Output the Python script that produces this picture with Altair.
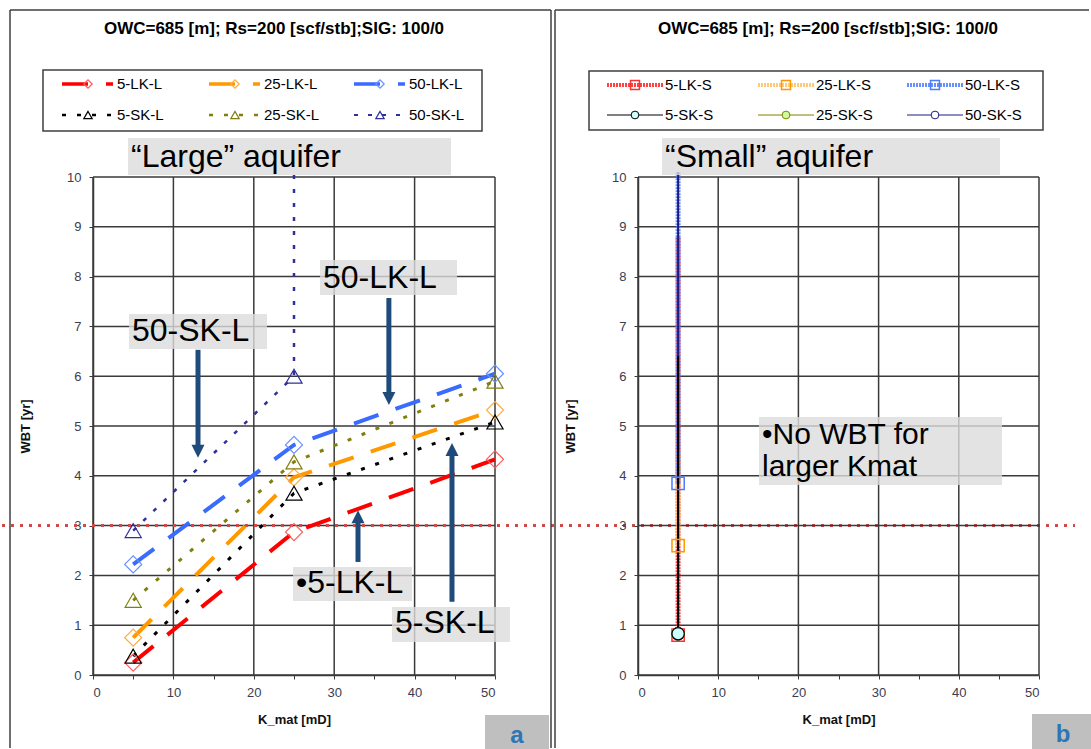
import altair as alt
import pandas as pd

# ------------------------------------------------------------------ data
k_ticks = [0, 10, 20, 30, 40, 50]
k_minor = [0, 5, 10, 15, 20, 25, 30, 35, 40, 45, 50]
wbt_ticks = [0, 1, 2, 3, 4, 5, 6, 7, 8, 9, 10]
wbt_limit = [3]

# "Large" aquifer
k_large = [5, 25, 50]
wbt_5_lk_l = [0.25, 2.87, 4.33]
wbt_25_lk_l = [0.75, 3.97, 5.32]
wbt_50_lk_l = [2.22, 4.62, 6.05]
wbt_5_sk_l = [0.38, 3.65, 5.08]
wbt_25_sk_l = [1.50, 4.28, 5.90]
k_50_sk_l = [5, 25]
wbt_50_sk_l = [2.90, 6.00]
wbt_50_sk_l_exit = 10.1  # past 25 mD the curve runs off the top of the axis

# "Small" aquifer: only the 5 mD case reaches a WBT
k_small = 5
small_lk = ["5-LK-S", "25-LK-S", "50-LK-S"]
wbt_small_lk = [0.80, 2.60, 3.85]
wbt_small_lk_top = [8.80, 4.50, 10.10]
small_sk = ["5-SK-S", "25-SK-S", "50-SK-S"]
wbt_small_sk = [0.83, 0.83, 0.83]
wbt_small_sk_top = [6.40, 5.00, 10.10]

# call-out arrows of panel a: (K_mat, start WBT, tip WBT)
arrows_a = [(36.8, 7.57, 5.42), (13.06, 6.53, 4.36), (32.96, 2.27, 3.31), (44.65, 1.47, 4.66)]

# ------------------------------------------------------------------ style
FONT = "Liberation Sans"
GRID = "#3a3a3a"
LABEL = "#3c3c50"
ARROW = "#1f4b7a"
BOX = "#dcdcdc"
W_A, W_B, H = 402, 401, 498
X_SCALE = alt.Scale(domain=[0, 50], nice=False, zero=False)
Y_SCALE = alt.Scale(domain=[0, 10], nice=False, zero=False)

large_style = {
    "5-LK-L": dict(color="#ff0000", mark="#ff5a5a", dash=[26, 18], width=4, shape="diamond", size=290),
    "25-LK-L": dict(color="#ff9900", mark="#ffaa40", dash=[26, 18], width=4, shape="diamond", size=290),
    "50-LK-L": dict(color="#3a6bff", mark="#6a90ff", dash=[26, 18], width=4, shape="diamond", size=290),
    "5-SK-L": dict(color="#000000", mark="#000000", dash=[4, 11], width=3, shape="triangle-up", size=260),
    "25-SK-L": dict(color="#808010", mark="#808010", dash=[4, 11], width=3, shape="triangle-up", size=260),
    "50-SK-L": dict(color="#30309a", mark="#30309a", dash=[4, 10], width=2.5, shape="triangle-up", size=260),
}
small_lk_style = [("#ff2020", "#ff3030"), ("#ffc060", "#ff9900"), ("#4d7aff", "#4d7aff")]
small_sk_style = [("#000000", "#ccffff"), ("#808000", "#ccff99"), ("#1c1c80", "#ffffff")]

x_axis = alt.Axis(
    values=k_minor, labelExpr="datum.value % 10 === 0 ? datum.label : ''",
    grid=False, tickSize=4, tickColor=GRID, tickWidth=1, domainColor=GRID, domainWidth=1.5,
    labelFont=FONT, labelFontSize=13, labelColor=LABEL, labelPadding=7,
    title="K_mat [mD]", titleFont=FONT, titleFontSize=13, titleFontWeight="bold",
    titleColor="#111111", titlePadding=14,
)
y_axis = alt.Axis(
    values=wbt_ticks, grid=False, tickSize=4, tickColor=GRID, tickWidth=1, domainColor=GRID,
    domainWidth=1.5, labelFont=FONT, labelFontSize=13, labelColor=LABEL, labelPadding=8,
    title="WBT [yr]", titleFont=FONT, titleFontSize=13, titleFontWeight="bold",
    titleColor="#111111", titlePadding=34,
)

ONE = alt.Data(values=[{"o": 0}])


def X(field="k"):
    return alt.X(f"{field}:Q", scale=X_SCALE)


def Y(field="wbt"):
    return alt.Y(f"{field}:Q", scale=Y_SCALE)


class Canvas:
    """Decorations placed in page pixels, relative to a panel's plot origin."""

    def __init__(self, ox, oy):
        self.ox, self.oy = ox, oy

    def rect(self, x0, y0, x1, y1, **style):
        return alt.Chart(ONE).mark_rect(**style).encode(
            x=alt.value(x0 - self.ox), x2=alt.value(x1 - self.ox),
            y=alt.value(y0 - self.oy), y2=alt.value(y1 - self.oy))

    def hline(self, x0, x1, y, **style):
        return alt.Chart(ONE).mark_rule(**style).encode(
            x=alt.value(x0 - self.ox), x2=alt.value(x1 - self.ox), y=alt.value(y - self.oy))

    def vline(self, x, y0, y1, **style):
        return alt.Chart(ONE).mark_rule(**style).encode(
            x=alt.value(x - self.ox), y=alt.value(y0 - self.oy), y2=alt.value(y1 - self.oy))

    def text(self, x, y, s, **style):
        st = dict(align="left", baseline="alphabetic", font=FONT, color="#000000")
        st.update(style)
        return alt.Chart(ONE).mark_text(**st).encode(
            x=alt.value(x - self.ox), y=alt.value(y - self.oy), text=alt.value(s))

    def symbol(self, x, y, **style):
        return alt.Chart(ONE).mark_point(**style).encode(
            x=alt.value(x - self.ox), y=alt.value(y - self.oy))


def grid_layers(width):
    xg = alt.Chart(pd.DataFrame({"k": k_ticks})).mark_rule(color=GRID, strokeWidth=1.5).encode(
        x=alt.X("k:Q", scale=X_SCALE, axis=x_axis), y=alt.value(0), y2=alt.value(H))
    yg = alt.Chart(pd.DataFrame({"wbt": wbt_ticks})).mark_rule(color=GRID, strokeWidth=1.5).encode(
        y=alt.Y("wbt:Q", scale=Y_SCALE, axis=y_axis), x=alt.value(0), x2=alt.value(width))
    return [xg, yg]


def limit_layer(x0, x1):
    return alt.Chart(pd.DataFrame({"wbt": wbt_limit})).mark_rule(
        color="#d04848", strokeWidth=3, strokeDash=[3, 6]).encode(
        y=Y(), x=alt.value(x0), x2=alt.value(x1))


def series_layers(ks, ws, st, marker_count):
    df = pd.DataFrame({"k": ks, "wbt": ws, "i": list(range(len(ks)))})
    line = alt.Chart(df).mark_line(
        color=st["color"], strokeDash=st["dash"], strokeWidth=st["width"], clip=False).encode(
        x=X(), y=Y(), order="i:Q")
    pts = alt.Chart(df.iloc[:marker_count]).mark_point(
        shape=st["shape"], size=st["size"], filled=False, stroke=st["mark"], strokeWidth=1.2,
        opacity=1).encode(x=X(), y=Y())
    return line, pts


def box_label(cv, x0, y0, x1, y1, lines, tx, baselines, size=32):
    out = [cv.rect(x0, y0, x1, y1, fill=BOX, fillOpacity=0.8, strokeWidth=0)]
    for s, b in zip(lines, baselines):
        out.append(cv.text(tx, b, s, fontSize=size))
    return out


TITLE = "OWC=685 [m]; Rs=200 [scf/stb];SIG: 100/0"

# ------------------------------------------------------------------ panel a
cva = Canvas(93, 177)
a_layers = grid_layers(W_A)
a_layers.append(cva.rect(0, 0, 1091, 749, fill="white", fillOpacity=0, strokeWidth=0))
a_layers.append(limit_layer(-91, 1075 - 93))

large_data = [
    ("5-LK-L", k_large, wbt_5_lk_l), ("25-LK-L", k_large, wbt_25_lk_l),
    ("50-LK-L", k_large, wbt_50_lk_l), ("5-SK-L", k_large, wbt_5_sk_l),
    ("25-SK-L", k_large, wbt_25_sk_l),
    ("50-SK-L", k_50_sk_l + [k_50_sk_l[-1]], wbt_50_sk_l + [wbt_50_sk_l_exit]),
]
marker_counts = {"50-SK-L": len(wbt_50_sk_l)}
lines_a, points_a = [], []
for name, ks, ws in large_data:
    ln, pt = series_layers(ks, ws, large_style[name], marker_counts.get(name, len(ks)))
    lines_a.append(ln)
    points_a.append(pt)
a_layers += lines_a[::-1] + points_a

a_layers += box_label(cva, 128, 138, 451, 175, ["\u201cLarge\u201d aquifer"], 131, [167])
a_layers += box_label(cva, 320, 260, 457, 295, ["50-LK-L"], 323, [288])
a_layers += box_label(cva, 129, 314, 267, 349, ["50-SK-L"], 132, [341])
a_layers += box_label(cva, 293, 567, 412, 601, ["\u20225-LK-L"], 296, [593])
a_layers += box_label(cva, 392, 607, 510, 642, ["5-SK-L"], 395, [633])

# call-out arrows, drawn through the data scales
HEAD = 12 / (H / 10)
arr = pd.DataFrame({
    "k": [a[0] for a in arrows_a],
    "start": [a[1] for a in arrows_a],
    "tip": [a[2] for a in arrows_a],
})
arr["shaft_end"] = [t + HEAD if t < s else t - HEAD for s, t in zip(arr["start"], arr["tip"])]
arr["down"] = arr["tip"] < arr["start"]
a_layers.append(alt.Chart(arr).mark_rule(color=ARROW, strokeWidth=5).encode(
    x=X(), y=Y("start"), y2="shaft_end:Q"))
a_layers.append(alt.Chart(arr[arr["down"]]).mark_point(
    shape="M -1 -2 L 1 -2 L 0 0 Z", size=169, filled=True, color=ARROW, opacity=1).encode(
    x=X(), y=Y("tip")))
a_layers.append(alt.Chart(arr[~arr["down"]]).mark_point(
    shape="M -1 2 L 1 2 L 0 0 Z", size=169, filled=True, color=ARROW, opacity=1).encode(
    x=X(), y=Y("tip")))

# frame, title, legend, panel tag
a_layers += [
    cva.vline(10, 10, 748, color="#3f3f3f", strokeWidth=1.5),
    cva.hline(10, 551, 10, color="#3f3f3f", strokeWidth=1.5),
    cva.vline(551, 10, 748, color="#3f3f3f", strokeWidth=1.5),
    cva.text(274, 34, TITLE, align="center", fontSize=17, fontWeight="bold"),
    cva.rect(43, 70, 482, 131, fill="white", stroke="#3f3f3f", strokeWidth=1.5),
]
legend_cols = [62, 209, 354]
legend_rows = [(84, 89), (115, 120)]
legend_names = [["5-LK-L", "25-LK-L", "50-LK-L"], ["5-SK-L", "25-SK-L", "50-SK-L"]]
for r, (ly, tb) in enumerate(legend_rows):
    for c, cx in enumerate(legend_cols):
        name = legend_names[r][c]
        st = large_style[name]
        a_layers.append(cva.hline(cx, cx + 51, ly, color=st["color"], strokeDash=st["dash"],
                                  strokeWidth=st["width"] - 0.5))
        a_layers.append(cva.symbol(cx + 26, ly, shape=st["shape"], size=70, filled=False,
                                   stroke=st["mark"], strokeWidth=1.2, opacity=1))
        a_layers.append(cva.text(cx + 55, tb, name, fontSize=15))
a_layers += [
    cva.rect(485, 715, 549, 749, fill="#bfbfbf", strokeWidth=0),
    cva.text(517, 743, "a", align="center", fontSize=24, fontWeight="bold", color="#2e75b6"),
]
panel_a = alt.layer(*a_layers).properties(width=W_A, height=H)

# ------------------------------------------------------------------ panel b
cvb = Canvas(638, 177)
b_layers = grid_layers(W_B)

lk_lines, lk_pts, sk_lines, sk_pts = [], [], [], []
for i, name in enumerate(small_lk):
    col, mcol = small_lk_style[i]
    df = pd.DataFrame({"k": [k_small, k_small], "wbt": [wbt_small_lk[i], wbt_small_lk_top[i]],
                       "i": [0, 1]})
    lk_lines.append(alt.Chart(df).mark_line(color=col, strokeWidth=5, strokeDash=[2, 1],
                                            opacity=0.85, clip=False).encode(
        x=X(), y=Y(), order="i:Q"))
    lk_pts.append(alt.Chart(df.iloc[:1]).mark_point(shape="square", size=150, filled=False,
                                                   stroke=mcol, strokeWidth=1.5, opacity=1).encode(
        x=X(), y=Y()))
for i, name in enumerate(small_sk):
    col, fcol = small_sk_style[i]
    df = pd.DataFrame({"k": [k_small, k_small], "wbt": [wbt_small_sk[i], wbt_small_sk_top[i]],
                       "i": [0, 1]})
    sk_lines.append(alt.Chart(df).mark_line(color=col, strokeWidth=2, clip=False).encode(
        x=X(), y=Y(), order="i:Q"))
    sk_pts.append(alt.Chart(df.iloc[:1]).mark_point(shape="circle", size=150, filled=True,
                                                   fill=fcol, stroke=col, strokeWidth=1.2,
                                                   opacity=1).encode(x=X(), y=Y()))
b_layers += lk_lines + sk_lines[::-1] + lk_pts + sk_pts[::-1]

b_layers += box_label(cvb, 662, 138, 1000, 175, ["\u201cSmall\u201d aquifer"], 665, [167])
b_layers += box_label(cvb, 759, 417, 1002, 485, ["\u2022No WBT for", "larger Kmat"], 762,
                      [444, 476], size=30)
b_layers += [
    cvb.vline(555, 10, 748, color="#3f3f3f", strokeWidth=1.5),
    cvb.hline(555, 1089, 10, color="#3f3f3f", strokeWidth=1.5),
    cvb.text(828, 34, TITLE, align="center", fontSize=17, fontWeight="bold"),
    cvb.rect(589, 71, 1043, 130, fill="white", stroke="#3f3f3f", strokeWidth=1.5),
]
legend_cols_b = [607, 758, 907]
legend_rows_b = [(85, 90), (115, 120)]
for c, cx in enumerate(legend_cols_b):
    ly, tb = legend_rows_b[0]
    col, mcol = small_lk_style[c]
    b_layers.append(cvb.hline(cx, cx + 56, ly, color=col, strokeWidth=4, strokeDash=[2, 1],
                              opacity=0.85))
    b_layers.append(cvb.symbol(cx + 28, ly, shape="square", size=80, filled=False, stroke=mcol,
                               strokeWidth=1.5, opacity=1))
    b_layers.append(cvb.text(cx + 58, tb, small_lk[c], fontSize=15))
    ly, tb = legend_rows_b[1]
    col, fcol = small_sk_style[c]
    b_layers.append(cvb.hline(cx, cx + 56, ly, color=col, strokeWidth=1))
    b_layers.append(cvb.symbol(cx + 28, ly, shape="circle", size=60, filled=True, fill=fcol,
                               stroke=col, strokeWidth=1, opacity=1))
    b_layers.append(cvb.text(cx + 58, tb, small_sk[c], fontSize=15))
b_layers += [
    cvb.rect(1032, 714, 1091, 749, fill="#bfbfbf", strokeWidth=0),
    cvb.text(1063, 742, "b", align="center", fontSize=24, fontWeight="bold", color="#2e75b6"),
]
panel_b = alt.layer(*b_layers).properties(width=W_B, height=H)

chart = (
    alt.hconcat(panel_a, panel_b, spacing=143, bounds="flush")
    .properties(padding=0, background="white")
    .configure_view(strokeWidth=0)
)
chart.save("out.html", embed_options={"renderer": "svg", "actions": False})
